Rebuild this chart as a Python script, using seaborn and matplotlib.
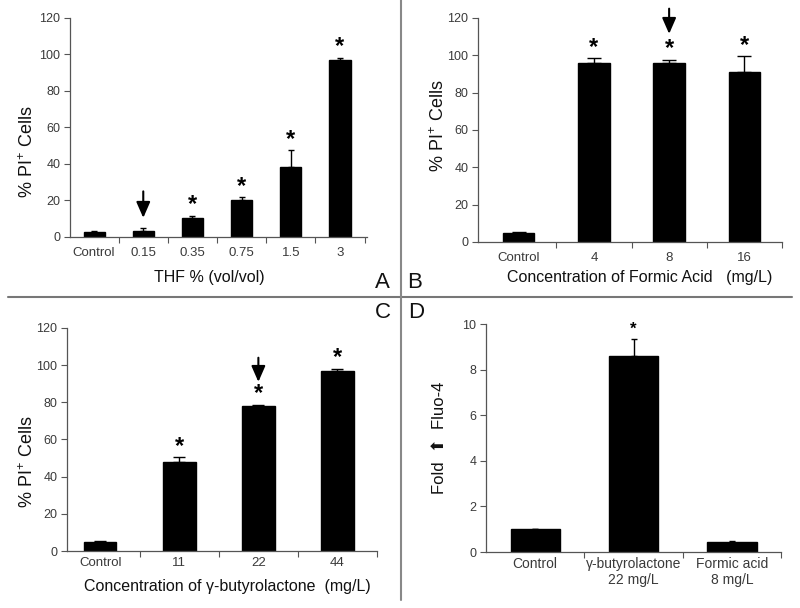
import numpy as np
import pandas as pd
import seaborn as sns
import matplotlib.pyplot as plt
from matplotlib.lines import Line2D

# panel A - THF
thf_labels = ['Control', '0.15', '0.35', '0.75', '1.5', '3']
thf_values = [3.0, 3.5, 10.5, 20.0, 38.5, 97.0]
thf_errors = [0.5, 1.5, 1.2, 1.8, 9.0, 1.2]
thf_stars = [False, False, True, True, True, True]

# panel B - formic acid
formic_labels = ['Control', '4', '8', '16']
formic_values = [5.0, 96.0, 96.0, 91.0]
formic_errors = [0.5, 2.5, 1.5, 8.5]
formic_stars = [False, True, True, True]

# panel C - gamma-butyrolactone
gbl_labels = ['Control', '11', '22', '44']
gbl_values = [5.0, 48.0, 78.0, 97.0]
gbl_errors = [0.5, 2.5, 0.5, 1.0]
gbl_stars = [False, True, True, True]

# panel D - Fluo-4 fold change
fluo_labels = ['Control', '\u03b3-butyrolactone\n22 mg/L', 'Formic acid\n8 mg/L']
fluo_values = [1.0, 8.6, 0.42]
fluo_errors = [0.0, 0.75, 0.05]
fluo_stars = [False, True, False]

sns.set_theme(style='ticks')
plt.rcParams['font.family'] = ['Liberation Sans', 'DejaVu Sans']
plt.rcParams['mathtext.fontset'] = 'custom'
plt.rcParams['mathtext.rm'] = 'Liberation Sans'
plt.rcParams['mathtext.it'] = 'Liberation Sans:italic'

AXIS_GRAY = '#555555'
TICK_GRAY = '#3a3a3a'


def draw_panel(ax, labels, values, errors, stars, xlim, ymax, ystep, bar_w,
               capsize, star_size, tick_size, star_pad, xpad):
    df = pd.DataFrame({'cat': labels, 'val': values})
    sns.barplot(data=df, x='cat', y='val', order=labels, color='black',
                saturation=1, width=bar_w, errorbar=None, ax=ax)
    for p in ax.patches:
        p.set_edgecolor('black')
    x = np.arange(len(labels))
    ax.errorbar(x, values, yerr=[np.zeros(len(errors)), errors], fmt='none',
                ecolor='black', elinewidth=1.0, capsize=capsize, capthick=1.0)
    for xi, v, e, s in zip(x, values, errors, stars):
        if s:
            ax.annotate('*', xy=(xi, v + e), xytext=(0, star_pad),
                        textcoords='offset points', ha='center', va='center',
                        fontsize=star_size, fontweight='bold', color='black')
    ax.set_xlim(*xlim)
    ax.set_ylim(0, ymax)
    ax.set_yticks(np.arange(0, ymax + 0.01, ystep))
    ax.set_xticks(x)
    ax.set_xticks(np.arange(0.5, len(labels), 1.0), minor=True)
    ax.set_xticklabels(labels)
    ax.tick_params(axis='x', which='major', length=0, pad=xpad,
                   labelsize=tick_size, labelcolor=TICK_GRAY)
    ax.tick_params(axis='x', which='minor', length=4, width=0.8, color=AXIS_GRAY)
    ax.tick_params(axis='y', length=4, width=0.8, color=AXIS_GRAY,
                   labelsize=9, labelcolor=TICK_GRAY, pad=3)
    for side in ['top', 'right']:
        ax.spines[side].set_visible(False)
    for side in ['left', 'bottom']:
        ax.spines[side].set_color(AXIS_GRAY)
        ax.spines[side].set_linewidth(0.9)
    ax.set_facecolor('white')


def down_arrow(ax, x, y_tail, y_tip):
    ax.annotate('', xy=(x, y_tip), xytext=(x, y_tail),
                arrowprops=dict(arrowstyle='-|>,head_length=0.8,head_width=0.35',
                                color='black', lw=1.5, shrinkA=0, shrinkB=0),
                annotation_clip=False)


fig = plt.figure(figsize=(8, 6.08), dpi=100)
fig.patch.set_facecolor('white')

ax_a = fig.add_axes([0.0875, 0.6102, 0.37125, 0.3602])
ax_b = fig.add_axes([0.5975, 0.6020, 0.3800, 0.3684])
ax_c = fig.add_axes([0.08375, 0.09375, 0.3875, 0.3668])
ax_d = fig.add_axes([0.6075, 0.0921, 0.3690, 0.3750])

draw_panel(ax_a, thf_labels, thf_values, thf_errors, thf_stars,
           (-0.49, 5.55), 120, 20, 0.43, 2.5, 17, 9.5, 8, 7.5)
draw_panel(ax_b, formic_labels, formic_values, formic_errors, formic_stars,
           (-0.54, 3.46), 120, 20, 0.42, 5, 17, 9.5, 8, 7.5)
draw_panel(ax_c, gbl_labels, gbl_values, gbl_errors, gbl_stars,
           (-0.42, 3.5), 120, 20, 0.41, 4, 17, 9.5, 8, 4.5)
draw_panel(ax_d, fluo_labels, fluo_values, fluo_errors, fluo_stars,
           (-0.5, 2.5), 10, 2, 0.5, 2.5, 12, 10, 7, 3.5)

down_arrow(ax_a, 1, 25, 10.5)
down_arrow(ax_b, 2, 125, 111.5)
down_arrow(ax_c, 2, 104, 91)

ylab = '% PI$^{+}$ Cells'
for ax, xc, yc in [(ax_a, -0.141, 0.39), (ax_b, -0.13, 0.52), (ax_c, -0.126, 0.40)]:
    ax.set_ylabel(ylab, fontsize=13, color='#111111')
    ax.yaxis.set_label_coords(xc, yc)
    ax.yaxis.label.set_va('center')

ax_d.set_ylabel('Fold  \u2b06  Fluo-4', fontsize=12, color='#111111')
ax_d.yaxis.label.set_fontfamily(['Liberation Sans', 'DejaVu Sans'])
ax_d.yaxis.set_label_coords(-0.156, 0.50)
ax_d.yaxis.label.set_va('center')

xlabels = [
    (ax_a, 'THF % (vol/vol)', 0.47, -0.187),
    (ax_b, 'Concentration of Formic Acid   (mg/L)', 0.533, -0.16),
    (ax_c, 'Concentration of \u03b3-butyrolactone  (mg/L)', 0.516, -0.161),
]
for ax, txt, xc, yc in xlabels:
    ax.set_xlabel(txt, fontsize=11.5, color='#111111')
    ax.xaxis.set_label_coords(xc, yc)
    ax.xaxis.label.set_va('center')
ax_d.set_xlabel('')

# panel dividers and letters
fig.add_artist(Line2D([8 / 800, 792 / 800], [1 - 297 / 608, 1 - 297 / 608],
                      color='#777777', lw=1.5, transform=fig.transFigure))
fig.add_artist(Line2D([401 / 800, 401 / 800], [1.0, 1 - 600 / 608],
                      color='#888888', lw=1.5, transform=fig.transFigure))
for letter, px, py in [('A', 382, 282), ('B', 415, 282), ('C', 383, 313), ('D', 416, 313)]:
    fig.text(px / 800, 1 - py / 608, letter, fontsize=16, ha='center', va='center',
             color='#111111')

fig.savefig('out.png', dpi=100, facecolor='white')
